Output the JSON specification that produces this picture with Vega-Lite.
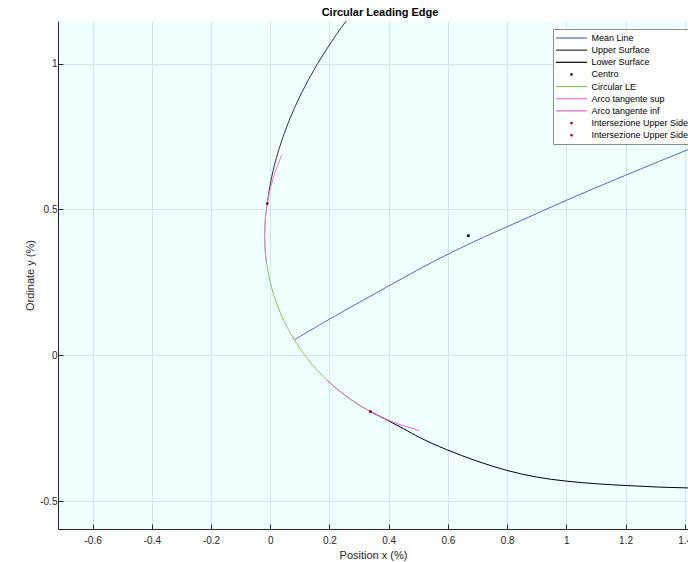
{
  "$schema": "https://vega.github.io/schema/vega-lite/v6.json",
  "width": 630,
  "height": 508,
  "autosize": {"type": "none"},
  "padding": {"left": 58, "top": 21, "right": 0, "bottom": 33},
  "background": "#ffffff",
  "title": {"text": "Circular Leading Edge", "font": "Liberation Sans", "fontSize": 11, "fontWeight": "bold", "color": "#000000", "offset": 3, "dx": 7},
  "config": {
    "view": {"fill": "#f0ffff", "stroke": null},
    "font": "Liberation Sans",
    "axis": {
      "domainColor": "#262626",
      "tickColor": "#262626",
      "gridColor": "#d9e3e3",
      "gridWidth": 1,
      "labelFont": "Liberation Sans",
      "labelFontSize": 10,
      "labelColor": "#262626",
      "titleFont": "Liberation Sans",
      "titleFontSize": 11,
      "titleFontWeight": "normal",
      "titleColor": "#262626",
      "tickSize": -5,
      "labelPadding": 11
    },
    "legend": {
      "padding": 3,
      "fillColor": "#ffffff",
      "strokeColor": "#8c8c8c",
      "cornerRadius": 0,
      "labelFont": "Liberation Sans",
      "labelFontSize": 9,
      "labelColor": "#000000",
      "symbolSize": 100,
      "symbolStrokeWidth": 1.2,
      "symbolOffset": 9.5,
      "labelOffset": 14,
      "rowPadding": 1.15
    }
  },
  "datasets": {
    "curves": [
      {"s": "Mean Line", "i": 0, "x": 0.0812, "y": 0.0526},
      {"s": "Mean Line", "i": 1, "x": 0.2, "y": 0.1235},
      {"s": "Mean Line", "i": 2, "x": 0.35, "y": 0.209},
      {"s": "Mean Line", "i": 3, "x": 0.54, "y": 0.315},
      {"s": "Mean Line", "i": 4, "x": 0.7, "y": 0.395},
      {"s": "Mean Line", "i": 5, "x": 0.85, "y": 0.463},
      {"s": "Mean Line", "i": 6, "x": 1.0, "y": 0.531},
      {"s": "Mean Line", "i": 7, "x": 1.2, "y": 0.617},
      {"s": "Mean Line", "i": 8, "x": 1.407, "y": 0.703},
      {"s": "Mean Line", "i": 9, "x": 1.46, "y": 0.724},
      {"s": "Upper Surface", "i": 0, "x": 0.2972, "y": 1.2},
      {"s": "Upper Surface", "i": 1, "x": 0.2563, "y": 1.146},
      {"s": "Upper Surface", "i": 2, "x": 0.2237, "y": 1.1},
      {"s": "Upper Surface", "i": 3, "x": 0.1907, "y": 1.05},
      {"s": "Upper Surface", "i": 4, "x": 0.1599, "y": 1.0},
      {"s": "Upper Surface", "i": 5, "x": 0.1318, "y": 0.95},
      {"s": "Upper Surface", "i": 6, "x": 0.106, "y": 0.9},
      {"s": "Upper Surface", "i": 7, "x": 0.0827, "y": 0.85},
      {"s": "Upper Surface", "i": 8, "x": 0.0618, "y": 0.8},
      {"s": "Upper Surface", "i": 9, "x": 0.0434, "y": 0.75},
      {"s": "Upper Surface", "i": 10, "x": 0.0274, "y": 0.7},
      {"s": "Upper Surface", "i": 11, "x": 0.0137, "y": 0.65},
      {"s": "Upper Surface", "i": 12, "x": 0.0026, "y": 0.6},
      {"s": "Upper Surface", "i": 13, "x": -0.0045, "y": 0.56},
      {"s": "Upper Surface", "i": 14, "x": -0.0101, "y": 0.52},
      {"s": "Lower Surface", "i": 0, "x": 0.3384, "y": -0.1934},
      {"s": "Lower Surface", "i": 1, "x": 0.394, "y": -0.222},
      {"s": "Lower Surface", "i": 2, "x": 0.45, "y": -0.252},
      {"s": "Lower Surface", "i": 3, "x": 0.506, "y": -0.283},
      {"s": "Lower Surface", "i": 4, "x": 0.596, "y": -0.324},
      {"s": "Lower Surface", "i": 5, "x": 0.698, "y": -0.363},
      {"s": "Lower Surface", "i": 6, "x": 0.799, "y": -0.395},
      {"s": "Lower Surface", "i": 7, "x": 0.9, "y": -0.418},
      {"s": "Lower Surface", "i": 8, "x": 1.002, "y": -0.432},
      {"s": "Lower Surface", "i": 9, "x": 1.103, "y": -0.441},
      {"s": "Lower Surface", "i": 10, "x": 1.204, "y": -0.447},
      {"s": "Lower Surface", "i": 11, "x": 1.306, "y": -0.452},
      {"s": "Lower Surface", "i": 12, "x": 1.407, "y": -0.455},
      {"s": "Lower Surface", "i": 13, "x": 1.5, "y": -0.457},
      {"s": "Circular LE", "i": 0, "x": -0.0101, "y": 0.52},
      {"s": "Circular LE", "i": 1, "x": -0.0164, "y": 0.47},
      {"s": "Circular LE", "i": 2, "x": -0.019, "y": 0.41},
      {"s": "Circular LE", "i": 3, "x": -0.0164, "y": 0.35},
      {"s": "Circular LE", "i": 4, "x": -0.0085, "y": 0.2906},
      {"s": "Circular LE", "i": 5, "x": 0.0045, "y": 0.2319},
      {"s": "Circular LE", "i": 6, "x": 0.0225, "y": 0.1747},
      {"s": "Circular LE", "i": 7, "x": 0.0455, "y": 0.1193},
      {"s": "Circular LE", "i": 8, "x": 0.0732, "y": 0.066},
      {"s": "Circular LE", "i": 9, "x": 0.1054, "y": 0.0154},
      {"s": "Circular LE", "i": 10, "x": 0.142, "y": -0.0322},
      {"s": "Circular LE", "i": 11, "x": 0.1825, "y": -0.0765},
      {"s": "Circular LE", "i": 12, "x": 0.2268, "y": -0.117},
      {"s": "Circular LE", "i": 13, "x": 0.2744, "y": -0.1536},
      {"s": "Circular LE", "i": 14, "x": 0.325, "y": -0.1858},
      {"s": "Circular LE", "i": 15, "x": 0.3384, "y": -0.1934},
      {"s": "Arco tangente sup", "i": 0, "x": 0.0405, "y": 0.6898},
      {"s": "Arco tangente sup", "i": 1, "x": 0.0225, "y": 0.6453},
      {"s": "Arco tangente sup", "i": 2, "x": 0.0045, "y": 0.5881},
      {"s": "Arco tangente sup", "i": 3, "x": -0.0085, "y": 0.5294},
      {"s": "Arco tangente sup", "i": 4, "x": -0.0164, "y": 0.47},
      {"s": "Arco tangente sup", "i": 5, "x": -0.019, "y": 0.41},
      {"s": "Arco tangente sup", "i": 6, "x": -0.0164, "y": 0.35},
      {"s": "Arco tangente sup", "i": 7, "x": -0.0123, "y": 0.3142},
      {"s": "Arco tangente inf", "i": 0, "x": 0.191, "y": -0.0849},
      {"s": "Arco tangente inf", "i": 1, "x": 0.2268, "y": -0.117},
      {"s": "Arco tangente inf", "i": 2, "x": 0.2744, "y": -0.1536},
      {"s": "Arco tangente inf", "i": 3, "x": 0.325, "y": -0.1858},
      {"s": "Arco tangente inf", "i": 4, "x": 0.3783, "y": -0.2135},
      {"s": "Arco tangente inf", "i": 5, "x": 0.4337, "y": -0.2365},
      {"s": "Arco tangente inf", "i": 6, "x": 0.5026, "y": -0.2576}
    ],
    "dots": [
      {"s": "Centro", "x": 0.669, "y": 0.41},
      {"s": "Intersezione Upper Side", "x": -0.0101, "y": 0.52},
      {"s": "Intersezione Upper Side 2", "x": 0.3384, "y": -0.1934}
    ]
  },
  "encoding": {
    "x": {
      "field": "x", "type": "quantitative",
      "scale": {"domain": [-0.717, 1.411], "nice": false, "zero": false},
      "axis": {"title": "Position x (%)", "values": [-0.6, -0.4, -0.2, 0, 0.2, 0.4, 0.6, 0.8, 1, 1.2, 1.4], "labelExpr": "datum.value + ''", "grid": true, "titlePadding": 4}
    },
    "y": {
      "field": "y", "type": "quantitative",
      "scale": {"domain": [-0.596, 1.146], "nice": false, "zero": false},
      "axis": {"title": "Ordinate y (%)", "values": [-0.5, 0, 0.5, 1], "labelExpr": "datum.value + ''", "grid": true, "titlePadding": 4, "labelPadding": 6}
    },
    "color": {
      "field": "s", "type": "nominal",
      "scale": {
        "domain": ["Mean Line", "Upper Surface", "Lower Surface", "Centro", "Circular LE", "Arco tangente sup", "Arco tangente inf", "Intersezione Upper Side", "Intersezione Upper Side 2"],
        "range": ["#5468b4", "#333333", "#000000", "#000000", "#8cc060", "#e27bd0", "#d86ac8", "#8b1010", "#8b1010"]
      },
      "legend": {
        "title": null, "orient": "none", "legendX": 495, "legendY": 8,
        "labelExpr": "datum.label == 'Intersezione Upper Side 2' ? 'Intersezione Upper Side' : datum.label"
      }
    }
  },
  "layer": [
    {
      "data": {"name": "curves"},
      "mark": {"type": "line", "strokeWidth": 1, "clip": true, "interpolate": "catmull-rom"},
      "encoding": {"order": {"field": "i", "type": "quantitative"}}
    },
    {
      "data": {"name": "dots"},
      "mark": {"type": "point", "filled": false, "strokeWidth": 1.5, "opacity": 1, "size": 100, "clip": true},
      "encoding": {
        "shape": {
          "field": "s", "type": "nominal",
          "scale": {
            "domain": ["Mean Line", "Upper Surface", "Lower Surface", "Centro", "Circular LE", "Arco tangente sup", "Arco tangente inf", "Intersezione Upper Side", "Intersezione Upper Side 2"],
            "range": ["M-3.1,0H3.1", "M-3.1,0H3.1", "M-3.1,0H3.1", "M-0.15,0a0.15,0.15 0 1,0 0.3,0a0.15,0.15 0 1,0 -0.3,0", "M-3.1,0H3.1", "M-3.1,0H3.1", "M-3.1,0H3.1", "M-0.15,0a0.15,0.15 0 1,0 0.3,0a0.15,0.15 0 1,0 -0.3,0", "M-0.15,0a0.15,0.15 0 1,0 0.3,0a0.15,0.15 0 1,0 -0.3,0"]
          },
          "legend": {
            "title": null, "orient": "none", "legendX": 495, "legendY": 8,
            "labelExpr": "datum.label == 'Intersezione Upper Side 2' ? 'Intersezione Upper Side' : datum.label"
          }
        }
      }
    }
  ]
}
